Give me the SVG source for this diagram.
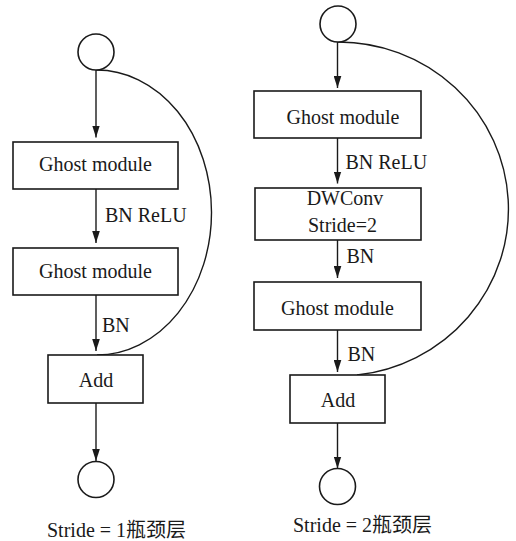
<svg xmlns="http://www.w3.org/2000/svg" width="516" height="541" viewBox="0 0 516 541">
<defs>
<marker id="ah" markerUnits="userSpaceOnUse" markerWidth="8" markerHeight="12" refX="3.5" refY="11" orient="auto-start-reverse" viewBox="0 0 7 11">
<path d="M0,0 L3.5,11 L7,0 L3.5,2 z" fill="#1a1a1a" transform="rotate(0)"/>
</marker>
<marker id="arr" markerUnits="userSpaceOnUse" markerWidth="12" markerHeight="8" refX="11" refY="3.5" orient="auto" viewBox="0 0 11 7">
<path d="M0,0 L11,3.5 L0,7 z" fill="#1a1a1a"/>
</marker>
</defs>
<style>
rect.b{fill:#fff;stroke:#1a1a1a;stroke-width:1.6}
circle.c{fill:#fff;stroke:#1a1a1a;stroke-width:1.6}
.e{fill:none;stroke:#1a1a1a;stroke-width:1.4}
.a{marker-end:url(#arr)}
text{font-family:"Liberation Serif","Noto Sans CJK SC",serif;font-size:20px;fill:#1a1a1a}
.m{text-anchor:middle}
</style>
<rect width="516" height="541" fill="#fff"/>
<g id="connectors">
<path class="e" d="M96,70 A115 142.5 0 0 1 97,355"/>
<line class="e a" x1="96" y1="70" x2="96" y2="137.5"/>
<line class="e a" x1="96" y1="189" x2="96" y2="243"/>
<line class="e a" x1="96" y1="295" x2="96" y2="351"/>
<line class="e a" x1="96" y1="403" x2="96" y2="461"/>
<path class="e" d="M338,42 A170 167 0 0 1 357,375"/>
<line class="e a" x1="337.5" y1="42" x2="337.5" y2="88"/>
<line class="e a" x1="337.5" y1="138" x2="337.5" y2="183.5"/>
<line class="e a" x1="337.5" y1="240" x2="337.5" y2="278"/>
<line class="e a" x1="337.5" y1="330" x2="337.5" y2="372"/>
<line class="e a" x1="337.5" y1="423" x2="337.5" y2="468.5"/>
<text x="105" y="221.5">BN ReLU</text>
<text x="102" y="331.5">BN</text>
<text x="345.5" y="168.5">BN ReLU</text>
<text x="346.5" y="262.5">BN</text>
<text x="347.5" y="361">BN</text>
</g>
<g id="l-in"><circle class="c" cx="96" cy="52" r="18"/></g>
<g id="l-ghost1"><rect class="b" x="13" y="142" width="165" height="47"/><text class="m" x="95.5" y="171">Ghost module</text></g>
<g id="l-ghost2"><rect class="b" x="13" y="248" width="165" height="47"/><text class="m" x="95.5" y="278">Ghost module</text></g>
<g id="l-add"><rect class="b" x="48" y="355" width="95" height="48"/><text class="m" x="96" y="386.5">Add</text></g>
<g id="l-out"><circle class="c" cx="96" cy="479.5" r="18"/></g>
<g id="l-cap"><text x="47" y="536.5">Stride = 1瓶颈层</text></g>
<g id="r-in"><circle class="c" cx="338" cy="24" r="18"/></g>
<g id="r-ghost1"><rect class="b" x="254" y="91" width="167" height="47"/><text class="m" x="343" y="124">Ghost module</text></g>
<g id="r-dw"><rect class="b" x="255" y="188" width="166" height="52"/><text class="m" x="345" y="205">DWConv</text><text class="m" x="342.5" y="231.5">Stride=2</text></g>
<g id="r-ghost2"><rect class="b" x="254" y="282" width="167" height="48"/><text class="m" x="337.5" y="315">Ghost module</text></g>
<g id="r-add"><rect class="b" x="290" y="375" width="95" height="48"/><text class="m" x="338" y="406.5">Add</text></g>
<g id="r-out"><circle class="c" cx="337.5" cy="486.5" r="18"/></g>
<g id="r-cap"><text x="293" y="531.5">Stride = 2瓶颈层</text></g>
</svg>
